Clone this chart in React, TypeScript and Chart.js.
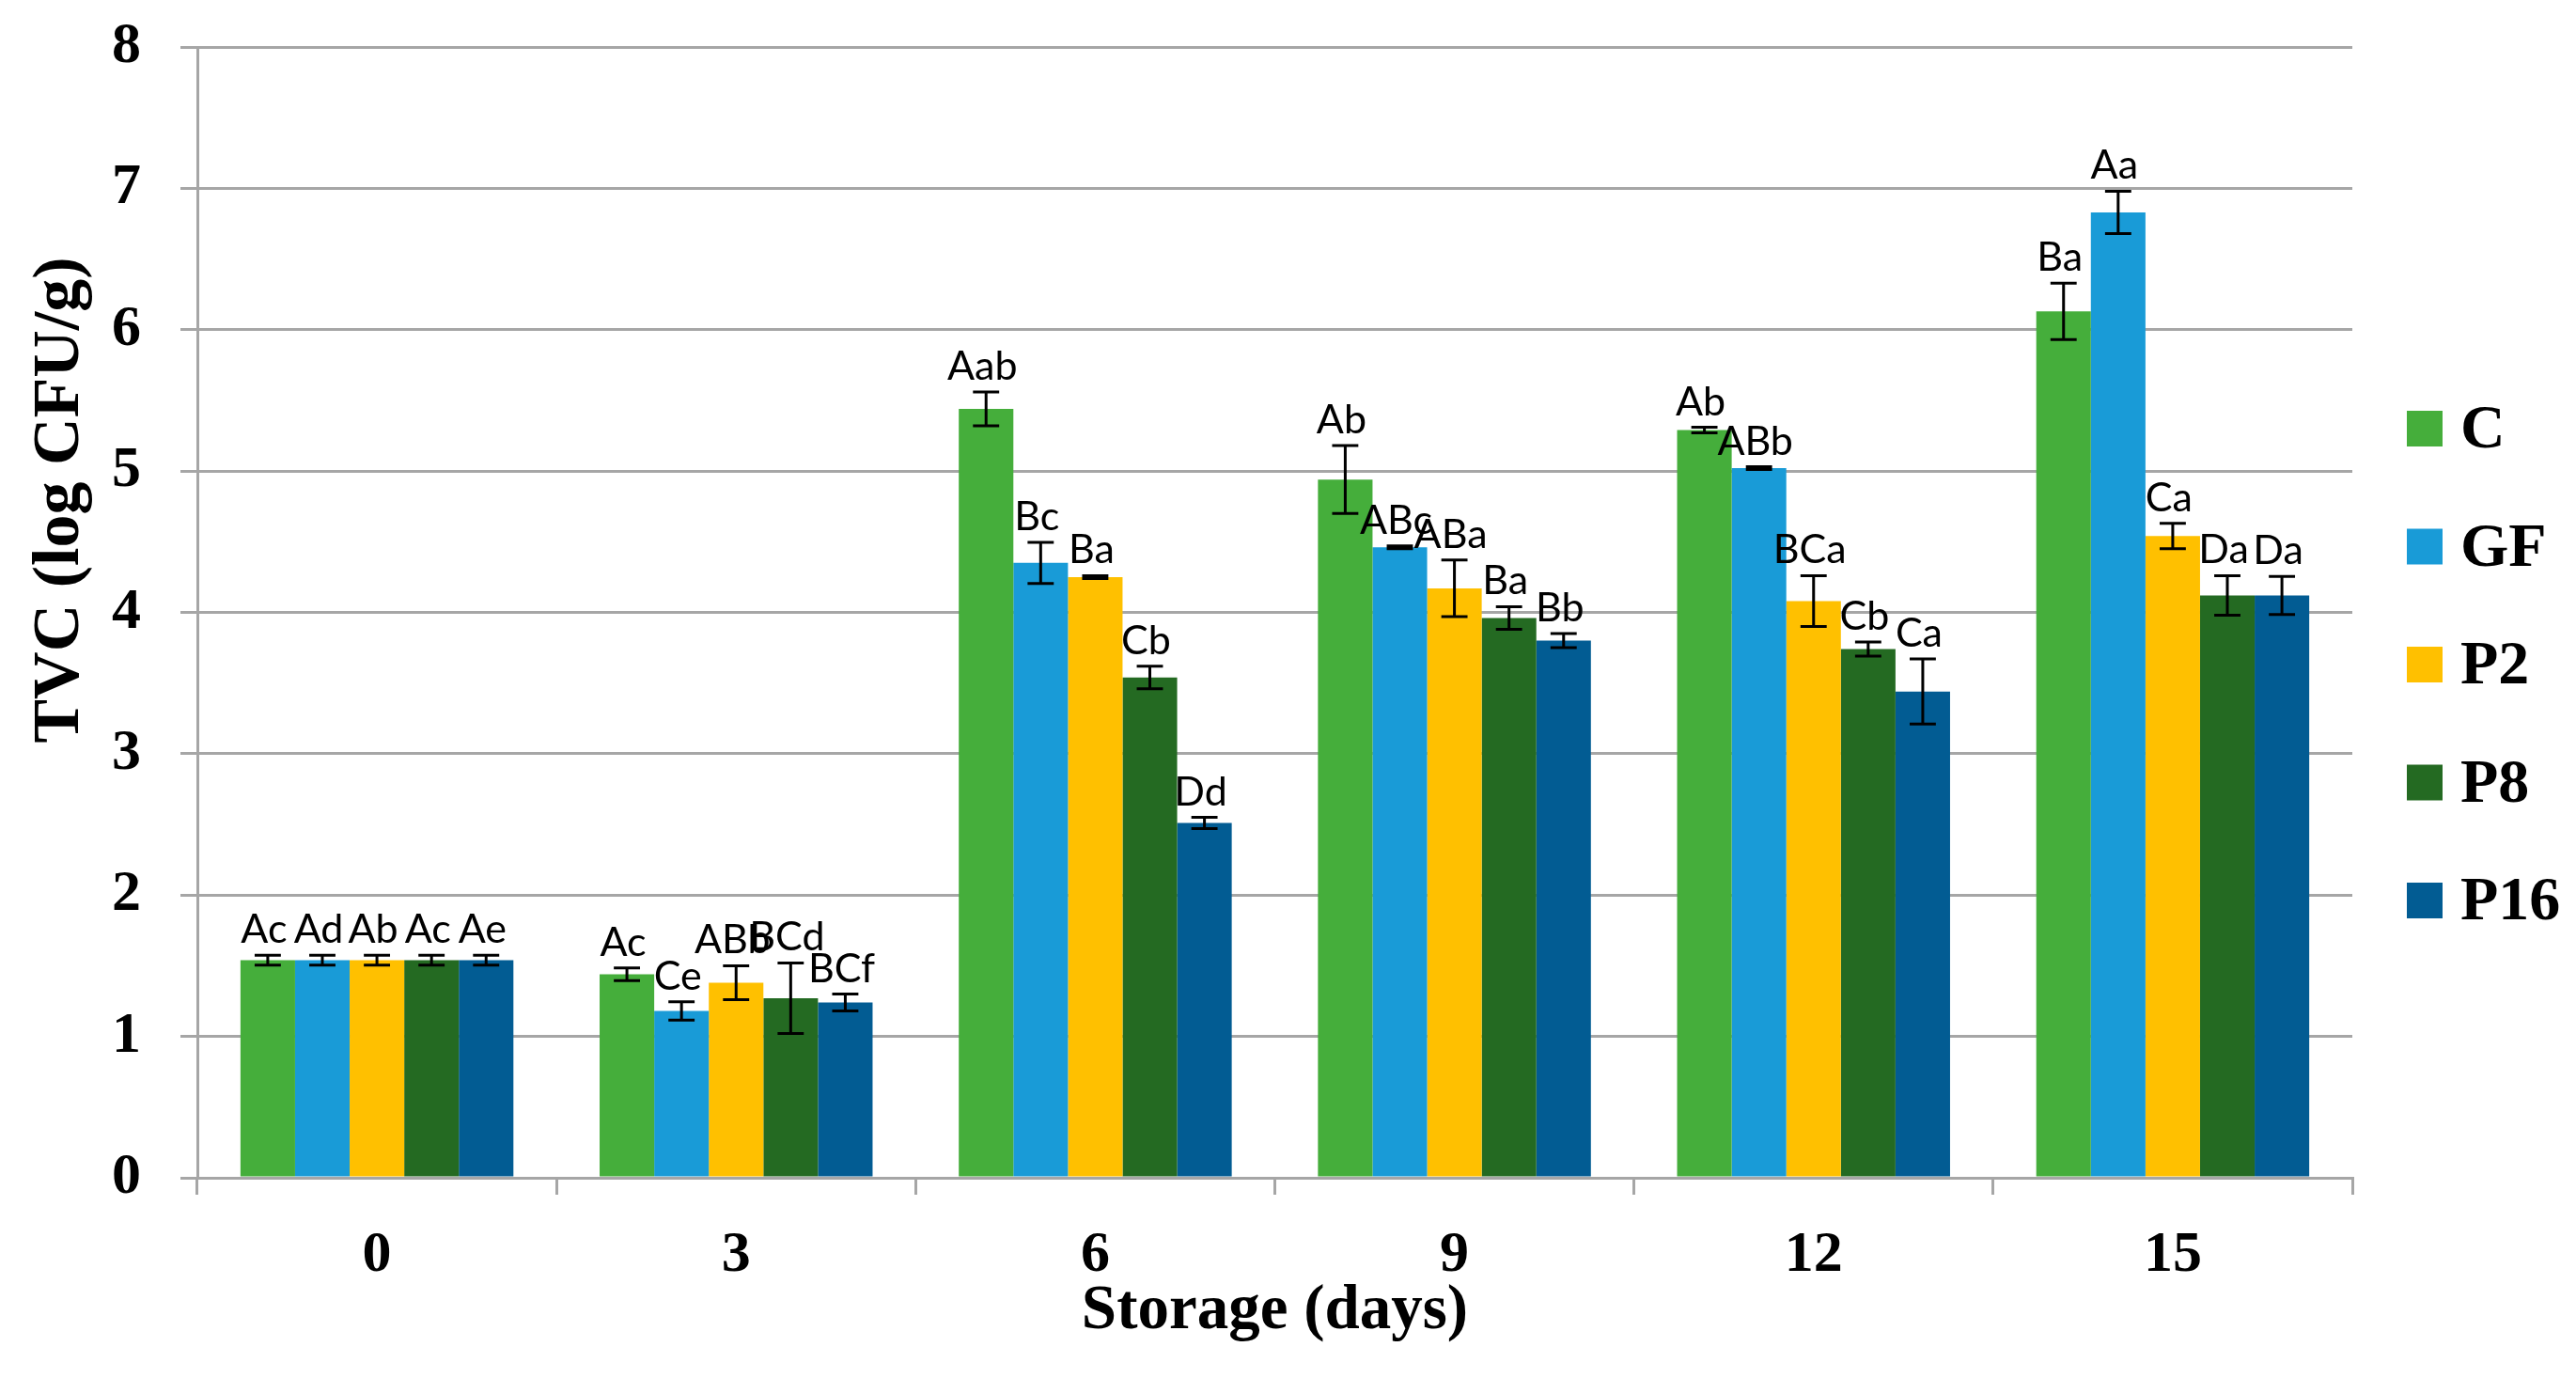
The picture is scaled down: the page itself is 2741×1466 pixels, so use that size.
import React, { useEffect, useRef } from "react";
import { Chart, registerables } from "chart.js";

Chart.register(...registerables);

const days = ["0", "3", "6", "9", "12", "15"];
const seriesNames = ["C", "GF", "P2", "P8", "P16"];
const colors = ["#45ae3b", "#199bd7", "#ffc000", "#246a22", "#025c93"];

const valC = [1.54, 1.44, 5.44, 4.94, 5.29, 6.13];
const valGF = [1.54, 1.18, 4.35, 4.46, 5.02, 6.83];
const valP2 = [1.54, 1.38, 4.25, 4.17, 4.08, 4.54];
const valP8 = [1.54, 1.27, 3.54, 3.96, 3.74, 4.12];
const valP16 = [1.54, 1.24, 2.51, 3.8, 3.44, 4.12];

const errC = [0.035, 0.045, 0.12, 0.24, 0.02, 0.2];
const errGF = [0.035, 0.065, 0.145, 0.01, 0.01, 0.15];
const errP2 = [0.035, 0.12, 0.01, 0.2, 0.18, 0.09];
const errP8 = [0.035, 0.25, 0.08, 0.08, 0.05, 0.14];
const errP16 = [0.035, 0.06, 0.04, 0.05, 0.23, 0.135];

const lblC = ["Ac", "Ac", "Aab", "Ab", "Ab", "Ba"];
const lblGF = ["Ad", "Ce", "Bc", "ABc", "ABb", "Aa"];
const lblP2 = ["Ab", "ABb", "Ba", "ABa", "BCa", "Ca"];
const lblP8 = ["Ac", "BCd", "Cb", "Ba", "Cb", "Da"];
const lblP16 = ["Ae", "BCf", "Dd", "Bb", "Ca", "Da"];

const yTitle = "TVC (log CFU/g)";
const xTitle = "Storage (days)";

const values = [valC, valGF, valP2, valP8, valP16];
const errors = [errC, errGF, errP2, errP8, errP16];
const letters = [lblC, lblGF, lblP2, lblP8, lblP16];

const SERIF = "'Liberation Serif', 'Times New Roman', serif";
const SANS = "Lato, 'Open Sans', sans-serif";

const errPlugin = {
  id: "errLabels",
  afterDatasetsDraw(chart: any) {
    const ctx = chart.ctx;
    const ys = chart.scales.y;
    ctx.save();
    chart.data.datasets.forEach((ds: any, di: number) => {
      const meta = chart.getDatasetMeta(di);
      meta.data.forEach((bar: any, i: number) => {
        const v = ds.data[i];
        const e = errors[di][i];
        const x = bar.x;
        const w = bar.width;
        const yt = ys.getPixelForValue(v + e);
        const yb = ys.getPixelForValue(v - e);
        const cw = w * 0.24;
        ctx.strokeStyle = "#000";
        ctx.lineWidth = 3;
        ctx.beginPath();
        ctx.moveTo(x, yt);
        ctx.lineTo(x, yb);
        ctx.moveTo(x - cw, yt);
        ctx.lineTo(x + cw, yt);
        ctx.moveTo(x - cw, yb);
        ctx.lineTo(x + cw, yb);
        ctx.stroke();
        ctx.fillStyle = "#000";
        ctx.font = `43px ${SANS}`;
        ctx.textAlign = "center";
        ctx.textBaseline = "alphabetic";
        ctx.fillText(letters[di][i], x - 4, yt - 13);
      });
    });
    ctx.restore();
  },
};

const sidePlugin = {
  id: "sideLegend",
  afterDraw(chart: any) {
    const ctx = chart.ctx;
    const area = chart.chartArea;
    ctx.save();
    chart.data.datasets.forEach((ds: any, di: number) => {
      const cy = area.top + 406 + di * 125.5;
      ctx.fillStyle = ds.backgroundColor;
      ctx.fillRect(area.right + 58, cy - 19, 38, 38);
      ctx.fillStyle = "#000";
      ctx.font = `bold 66px ${SERIF}`;
      ctx.textAlign = "left";
      ctx.textBaseline = "middle";
      ctx.fillText(ds.label, area.right + 115, cy + 3);
    });
    // vertical axis title
    ctx.translate(65, area.top + 482);
    ctx.rotate(-Math.PI / 2);
    ctx.font = `bold 70px ${SERIF}`;
    ctx.textAlign = "center";
    ctx.textBaseline = "middle";
    ctx.fillStyle = "#000";
    ctx.fillText(yTitle, 0, 0);
    ctx.restore();
  },
};

export default function App() {
  const ref = useRef<HTMLCanvasElement | null>(null);
  useEffect(() => {
    if (!ref.current) return;
    const chart = new Chart(ref.current, {
      type: "bar",
      data: {
        labels: days,
        datasets: seriesNames.map((name, i) => ({
          label: name,
          data: values[i],
          backgroundColor: colors[i],
          borderWidth: 0,
          categoryPercentage: 0.76,
          barPercentage: 1.0,
        })),
      },
      options: {
        animation: false,
        responsive: true,
        maintainAspectRatio: false,
        layout: { padding: { top: 50, right: 238, left: 0, bottom: 0 } },
        plugins: {
          legend: { display: false },
          tooltip: { enabled: false },
        },
        scales: {
          x: {
            offset: true,
            grid: {
              offset: true,
              drawOnChartArea: false,
              color: "#a6a6a6",
              lineWidth: 3,
              tickLength: 18,
            },
            border: { color: "#a6a6a6", width: 3 },
            ticks: {
              color: "#000",
              padding: 28,
              font: { family: SERIF, size: 62, weight: "bold" },
            },
            title: {
              display: true,
              text: xTitle,
              color: "#000",
              font: { family: SERIF, size: 67, weight: "bold" },
              padding: { top: 0, bottom: 30 },
            },
            afterFit: (s: any) => {
              s.height = 213;
            },
          },
          y: {
            min: 0,
            max: 8,
            ticks: {
              stepSize: 1,
              color: "#000",
              padding: 42,
              font: { family: SERIF, size: 62, weight: "bold" },
            },
            grid: { color: "#a6a6a6", lineWidth: 3, tickLength: 18 },
            border: { color: "#a6a6a6", width: 3 },
            title: { display: false },
            afterFit: (s: any) => {
              s.width = 210;
              s.paddingTop = 0;
              s.paddingBottom = 0;
            },
          },
        },
      } as any,
      plugins: [errPlugin, sidePlugin],
    });
    return () => chart.destroy();
  }, []);
  return (
    <div style={{ position: "absolute", left: 0, top: 0, width: 2741, height: 1466, background: "#fff" }}>
      <canvas ref={ref} />
    </div>
  );
}
